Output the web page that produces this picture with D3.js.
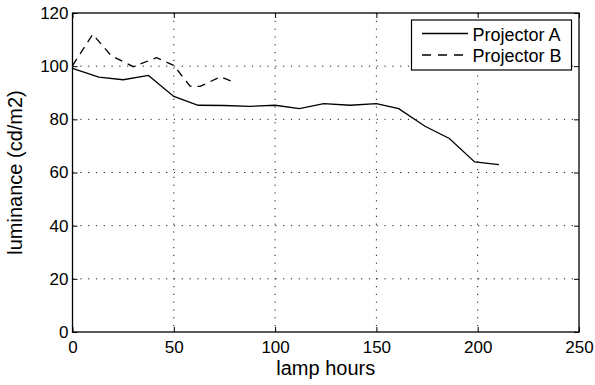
<!DOCTYPE html>
<html><head><meta charset="utf-8">
<script src="https://cdn.jsdelivr.net/npm/d3@7"></script>
<style>
body{margin:0;background:#fff;}
svg{display:block;font-family:"Liberation Sans",Arial,Helvetica,sans-serif;}
</style></head>
<body><svg id="c" width="595" height="385"></svg>
<script>
const hoursA = [0, 13, 25, 37.5, 50, 62, 75, 87.5, 100, 112, 124, 137, 150, 161, 174, 186, 198.5, 210.5];
const lumA   = [99.2, 95.9, 94.9, 96.5, 88.6, 85.3, 85.2, 84.9, 85.3, 84.0, 85.9, 85.3, 85.9, 84.0, 77.4, 72.8, 64.0, 63.0];
const hoursB = [0, 10, 19, 30, 41.5, 50, 58, 63, 73, 79];
const lumB   = [100.2, 112, 104, 99.8, 103.2, 100.3, 92.5, 92.4, 96, 94.2];
const xTicks = [0, 50, 100, 150, 200, 250];
const yTicks = [0, 20, 40, 60, 80, 100, 120];
const seriesNames = ["Projector A", "Projector B"];

const L = 72.5, R = 579, T = 13, B = 332;
const svg = d3.select("#c");
const x = d3.scaleLinear().domain([0, 250]).range([L, R]);
const y = d3.scaleLinear().domain([0, 120]).range([B, T]);

// grid
const g = svg.append("g").attr("stroke", "#000").attr("stroke-width", 0.9).attr("stroke-dasharray", "1.2,6.6");
g.selectAll(".gx").data(xTicks.filter(d => d > 0 && d < 250)).join("line")
  .attr("x1", d => x(d)).attr("x2", d => x(d)).attr("y1", T).attr("y2", B);
g.selectAll(".gy").data(yTicks.filter(d => d > 0 && d < 120)).join("line")
  .attr("x1", L).attr("x2", R).attr("y1", d => y(d)).attr("y2", d => y(d));

// axes
function styleAxis(sel){
  sel.select(".domain").remove();
  sel.selectAll(".tick line").attr("stroke", "#000").attr("stroke-width", 1);
  sel.selectAll(".tick text").attr("fill", "#000").attr("font-size", 17);
}
svg.append("g").attr("transform", `translate(0,${B})`)
  .call(d3.axisBottom(x).tickValues(xTicks).tickSizeInner(-5).tickSizeOuter(0).tickPadding(8.5)).call(styleAxis);
svg.append("g").attr("transform", `translate(${L},0)`)
  .call(d3.axisLeft(y).tickValues(yTicks).tickSizeInner(-5).tickSizeOuter(0).tickPadding(4)).call(styleAxis);
svg.append("g").attr("transform", `translate(0,${T})`)
  .call(d3.axisTop(x).tickValues(xTicks).tickSizeInner(-5).tickSizeOuter(0).tickFormat("")).call(styleAxis);
svg.append("g").attr("transform", `translate(${R},0)`)
  .call(d3.axisRight(y).tickValues(yTicks).tickSizeInner(-5).tickSizeOuter(0).tickFormat("")).call(styleAxis);

svg.append("rect").attr("x", L).attr("y", T).attr("width", R - L).attr("height", B - T)
  .attr("fill", "none").attr("stroke", "#000").attr("stroke-width", 1.3);

// lines
const line = d3.line().x(d => x(d[0])).y(d => y(d[1]));
svg.append("path").datum(hoursA.map((h, i) => [h, lumA[i]]))
  .attr("d", line).attr("fill", "none").attr("stroke", "#000").attr("stroke-width", 1.3);
svg.append("path").datum(hoursB.map((h, i) => [h, lumB[i]]))
  .attr("d", line).attr("fill", "none").attr("stroke", "#000").attr("stroke-width", 1.3)
  .attr("stroke-dasharray", "8,6");

// labels
svg.append("text").attr("x", (L + R) / 2).attr("y", 374.5).attr("text-anchor", "middle")
  .attr("font-size", 20).text("lamp hours");
svg.append("text").attr("transform", `translate(21.5,${(T + B) / 2}) rotate(-90)`)
  .attr("text-anchor", "middle").attr("font-size", 20).text("luminance (cd/m2)");

// legend
const lg = svg.append("g");
lg.append("rect").attr("x", 411.5).attr("y", 20).attr("width", 160).attr("height", 50)
  .attr("fill", "#fff").attr("stroke", "#000").attr("stroke-width", 1.2);
const rows = [{n: seriesNames[0], dash: null, y: 33.5, ty: 40.5}, {n: seriesNames[1], dash: "9,7", y: 55, ty: 61.8}];
rows.forEach(r => {
  lg.append("line").attr("x1", 422).attr("x2", 468).attr("y1", r.y).attr("y2", r.y)
    .attr("stroke", "#000").attr("stroke-width", 1.3).attr("stroke-dasharray", r.dash);
  lg.append("text").attr("x", 472.5).attr("y", r.ty).attr("font-size", 18).text(r.n);
});
</script></body></html>
